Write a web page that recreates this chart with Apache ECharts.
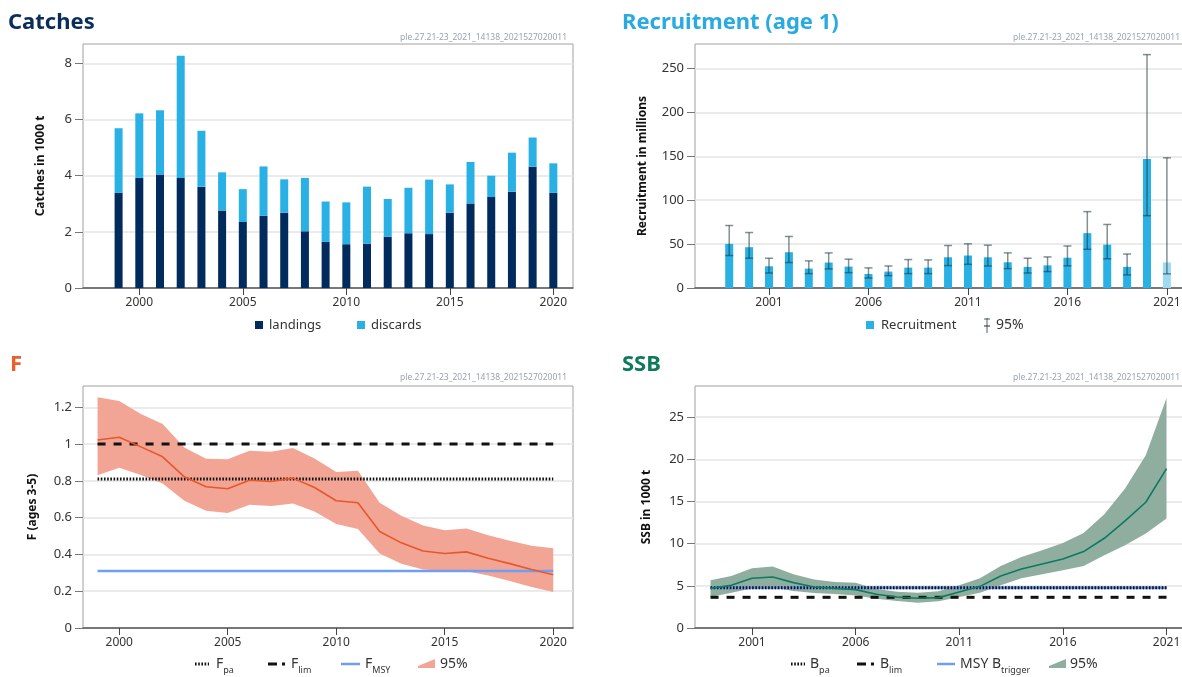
<!DOCTYPE html>
<html>
<head>
<meta charset="utf-8">
<title>ple.27.21-23 stock summary</title>
<script src="https://cdn.jsdelivr.net/npm/echarts@6.0.0/dist/echarts.min.js"></script>
<style>
html,body{margin:0;padding:0;background:#fff;}
#main{width:1182px;height:677px;}
</style>
</head>
<body>
<div id="main"></div>
<script>
// catches (1000 t)
var catchYears = [1999,2000,2001,2002,2003,2004,2005,2006,2007,2008,2009,2010,2011,2012,2013,2014,2015,2016,2017,2018,2019,2020];
var landings = [3.39,3.92,4.04,3.92,3.61,2.76,2.35,2.57,2.68,2.02,1.64,1.56,1.57,1.83,1.95,1.92,2.68,3.01,3.24,3.43,4.32,3.39];
var discards = [2.30,2.30,2.29,4.35,1.99,1.36,1.17,1.76,1.19,1.90,1.44,1.49,2.04,1.34,1.62,1.94,1.01,1.48,0.76,1.39,1.04,1.05];

// recruitment (age 1, millions)
var recYears = [1999,2000,2001,2002,2003,2004,2005,2006,2007,2008,2009,2010,2011,2012,2013,2014,2015,2016,2017,2018,2019,2020,2021];
var recruitment = [50.3,46.5,24.8,40.8,22.1,29.0,24.4,16.0,18.7,23.2,23.2,35.0,37.0,35.0,29.3,24.0,25.8,34.5,62.5,49.4,24.1,147.1,29.1];
var recLow  = [37.0,33.9,17.1,29.0,16.4,21.7,17.5,11.4,14.1,16.4,16.4,25.5,27.0,25.1,22.1,17.1,18.7,25.3,44.1,33.3,14.9,82.4,16.1];
var recHigh = [71.2,63.2,33.9,58.7,30.9,40.0,32.8,22.9,25.1,32.4,32.0,48.4,50.3,48.8,40.0,33.9,35.4,47.9,87.0,72.4,38.7,265.9,148.3];

// fishing mortality (ages 3-5)
var fYears = [1999,2000,2001,2002,2003,2004,2005,2006,2007,2008,2009,2010,2011,2012,2013,2014,2015,2016,2017,2018,2019,2020];
var fMean = [1.022,1.037,0.985,0.931,0.822,0.768,0.757,0.804,0.797,0.815,0.764,0.692,0.681,0.525,0.463,0.419,0.405,0.414,0.379,0.350,0.318,0.290];
var fLow  = [0.830,0.871,0.832,0.786,0.692,0.637,0.626,0.670,0.664,0.677,0.634,0.565,0.539,0.405,0.350,0.318,0.310,0.309,0.285,0.256,0.223,0.196];
var fHigh = [1.255,1.235,1.164,1.109,0.982,0.920,0.917,0.964,0.959,0.979,0.922,0.848,0.855,0.681,0.610,0.557,0.532,0.541,0.505,0.474,0.447,0.434];
var fPa = 0.81, fLim = 1.0, fMsy = 0.31;

// SSB (1000 t)
var ssbYears = [1999,2000,2001,2002,2003,2004,2005,2006,2007,2008,2009,2010,2011,2012,2013,2014,2015,2016,2017,2018,2019,2020,2021];
var ssb     = [4.7,5.06,5.9,6.05,5.38,4.87,4.7,4.55,4.0,3.68,3.52,3.6,4.27,4.94,6.17,7.0,7.6,8.19,9.06,10.64,12.7,14.91,18.9];
var ssbLow  = [3.68,4.19,4.67,4.79,4.39,4.15,4.03,3.84,3.48,3.2,3.0,3.16,3.68,4.19,5.06,5.89,6.37,6.84,7.36,8.62,9.81,11.2,12.98];
var ssbHigh = [5.66,6.17,7.08,7.28,6.37,5.74,5.46,5.38,4.63,4.31,4.19,4.35,5.06,5.89,7.36,8.43,9.22,10.09,11.27,13.49,16.54,20.49,27.29];
var bPa = 4.77, bLim = 3.64, msyBtrigger = 4.77;

var catchTicks = [2000,2005,2010,2015,2020];
var recTicks = [2001,2006,2011,2016,2021];
var catchYTicks = [0,2,4,6,8];
var recYTicks = [0,50,100,150,200,250];
var fYTicks = [0,0.2,0.4,0.6,0.8,1,1.2];
var ssbYTicks = [0,5,10,15,20,25];

var stockId = 'ple.27.21-23_2021_14138_2021527020011';
var FONT = 'Noto Sans';

var chart = echarts.init(document.getElementById('main'));

function xAxisFor(gi, min, max, ticks) {
    return {
        type: 'value', gridIndex: gi, min: min, max: max,
        axisLine: {show: true, onZero: false, lineStyle: {color: '#555', width: 1.5}},
        axisTick: {show: true, length: 7, customValues: ticks, lineStyle: {color: '#444'}},
        axisLabel: {customValues: ticks, color: '#333', fontSize: 12, fontFamily: FONT, margin: 9,
            formatter: function (v) { return String(v); }},
        splitLine: {show: false}
    };
}
function yAxisFor(gi, max, interval, ticks, name, gap) {
    return {
        type: 'value', gridIndex: gi, min: 0, max: max, interval: interval,
        name: name, nameLocation: 'middle', nameGap: gap,
        nameTextStyle: {fontWeight: 'bold', fontSize: 12, color: '#111', fontFamily: FONT},
        axisLine: {show: false},
        axisTick: {show: true, length: 8, customValues: ticks, lineStyle: {color: '#777'}},
        axisLabel: {customValues: ticks, color: '#333', fontSize: 13, fontFamily: FONT, margin: 11},
        splitLine: {show: true, lineStyle: {color: '#e4e4e4', width: 1.5}}
    };
}
function bandRenderer(years, lo, hi, fill) {
    return function (params, api) {
        if (params.dataIndex !== 0) return null;
        var pts = [];
        for (var i = 0; i < years.length; i++) pts.push(api.coord([years[i], hi[i]]));
        for (var j = years.length - 1; j >= 0; j--) pts.push(api.coord([years[j], lo[j]]));
        return {type: 'polygon', shape: {points: pts}, style: {fill: fill}};
    };
}
// stacked segment drawn between two values on the y scale
function segBar(color, w) {
    return function (params, api) {
        var x = api.value(0);
        var a = api.coord([x, api.value(1)]);
        var b = api.coord([x, api.value(2)]);
        return {type: 'rect', shape: {x: a[0] - w / 2, y: b[1], width: w, height: a[1] - b[1]},
            style: {fill: color}};
    };
}
function errRender(params, api) {
    var x = api.value(0);
    var top = api.coord([x, api.value(2)]);
    var bot = api.coord([x, api.value(1)]);
    var st = {stroke: 'rgba(25,55,60,0.55)', lineWidth: 1.5};
    return {type: 'group', children: [
        {type: 'line', shape: {x1: top[0], y1: top[1], x2: bot[0], y2: bot[1]}, style: st},
        {type: 'line', shape: {x1: top[0] - 4, y1: top[1], x2: top[0] + 4, y2: top[1]}, style: st},
        {type: 'line', shape: {x1: bot[0] - 4, y1: bot[1], x2: bot[0] + 4, y2: bot[1]}, style: st}
    ]};
}
function refLine(name, gi, years, val, color, type, width, z) {
    return {
        name: name, type: 'line', xAxisIndex: gi, yAxisIndex: gi, z: z,
        data: [[years[0], val], [years[years.length - 1], val]],
        showSymbol: false, silent: true,
        lineStyle: {color: color, type: type, width: width}
    };
}
function pair(xs, ys) {
    return xs.map(function (x, i) { return [x, ys[i]]; });
}

// legend and title helpers (graphic)
function txt(x, y, s, size, color, weight, align) {
    return {type: 'text', x: x, y: y, silent: true, style: {
        text: s, fill: color || '#333', fontSize: size, fontFamily: FONT,
        fontWeight: weight || 'normal', align: align || 'left', verticalAlign: 'middle'}};
}
function subTxt(x, y, main, sub) {
    return {type: 'text', x: x, y: y, silent: true, style: {
        text: '{m|' + main + '}{s|' + sub + '}', verticalAlign: 'middle',
        rich: {
            m: {fontSize: 14, fontFamily: FONT, fill: '#333', lineHeight: 22},
            s: {fontSize: 9, fontFamily: FONT, fill: '#333', lineHeight: 11, verticalAlign: 'bottom'}
        }}};
}
function seg(x1, y1, x2, y2, color, w, dash) {
    return {type: 'line', silent: true, shape: {x1: x1, y1: y1, x2: x2, y2: y2},
        style: {stroke: color, lineWidth: w, lineDash: dash || null}};
}
function box(x, y, w, h, color) {
    return {type: 'rect', silent: true, shape: {x: x, y: y, width: w, height: h}, style: {fill: color}};
}
function wedge(x, y, color) {
    return {type: 'polygon', silent: true, shape: {points: [[x, y + 3], [x + 17, y - 4], [x + 17, y + 5], [x, y + 5]]}, style: {fill: color}};
}

var navy = '#002b5c', sky = '#29b1e6';
var fLineCol = '#e8572a', fBandCol = '#f2a594';
var ssbLineCol = '#0c7a5f', ssbBandCol = '#8fae9f';
var msyBlue = '#6f9ef5';

var option = {
    animation: false,
    backgroundColor: '#fff',
    textStyle: {fontFamily: FONT},
    grid: [
        {left: 83, top: 44, width: 490, height: 244, show: true, borderColor: '#a0a0a0', borderWidth: 1, outerBoundsMode: 'none'},
        {left: 695, top: 44, width: 491, height: 244, show: true, borderColor: '#a0a0a0', borderWidth: 1, outerBoundsMode: 'none'},
        {left: 83, top: 386, width: 490, height: 242, show: true, borderColor: '#a0a0a0', borderWidth: 1, outerBoundsMode: 'none'},
        {left: 695, top: 386, width: 491, height: 242, show: true, borderColor: '#a0a0a0', borderWidth: 1, outerBoundsMode: 'none'}
    ],
    xAxis: [
        xAxisFor(0, 1997.28, 2020.95, catchTicks),
        xAxisFor(1, 1997.28, 2021.96, recTicks),
        xAxisFor(2, 1998.33, 2020.91, catchTicks),
        xAxisFor(3, 1998.25, 2021.94, recTicks)
    ],
    yAxis: [
        yAxisFor(0, 8.69, 2, catchYTicks, 'Catches in 1000 t', 36),
        yAxisFor(1, 278, 50, recYTicks, 'Recruitment in millions', 46),
        yAxisFor(2, 1.316, 0.2, fYTicks, 'F (ages 3-5)', 44),
        yAxisFor(3, 28.7, 5, ssbYTicks, 'SSB in 1000 t', 42)
    ],
    series: [
        {name: 'landings', type: 'custom', xAxisIndex: 0, yAxisIndex: 0, z: 2,
            renderItem: segBar(navy, 8), encode: {x: 0, y: [1, 2]},
            data: catchYears.map(function (y, i) { return [y, 0, landings[i]]; })},
        {name: 'discards', type: 'custom', xAxisIndex: 0, yAxisIndex: 0, z: 2,
            renderItem: segBar(sky, 8), encode: {x: 0, y: [1, 2]},
            data: catchYears.map(function (y, i) { return [y, landings[i], landings[i] + discards[i]]; })},

        {name: 'Recruitment', type: 'bar', xAxisIndex: 1, yAxisIndex: 1, barWidth: 8,
            itemStyle: {color: sky},
            data: recYears.map(function (y, i) {
                var d = {value: [y, recruitment[i]]};
                if (i === recYears.length - 1) d.itemStyle = {color: '#9fdaf4'};
                return d;
            })},
        {name: 'Recruitment 95%', type: 'custom', xAxisIndex: 1, yAxisIndex: 1, z: 5,
            renderItem: errRender, encode: {x: 0, y: [1, 2]},
            data: recYears.map(function (y, i) { return [y, recLow[i], recHigh[i]]; })},

        {name: 'F 95%', type: 'custom', xAxisIndex: 2, yAxisIndex: 2, z: 1,
            renderItem: bandRenderer(fYears, fLow, fHigh, fBandCol), encode: {x: 0, y: [1, 2]},
            data: fYears.map(function (y, i) { return [y, fLow[i], fHigh[i]]; })},
        refLine('FMSY', 2, fYears, fMsy, msyBlue, 'solid', 2.5, 3),
        refLine('Fpa', 2, fYears, fPa, '#111', [1.6, 1.6], 3, 3),
        refLine('Flim', 2, fYears, fLim, '#111', [8, 8], 3, 3),
        {name: 'F', type: 'line', xAxisIndex: 2, yAxisIndex: 2, z: 4, showSymbol: false,
            lineStyle: {color: fLineCol, width: 1.6}, data: pair(fYears, fMean)},

        {name: 'SSB 95%', type: 'custom', xAxisIndex: 3, yAxisIndex: 3, z: 1,
            renderItem: bandRenderer(ssbYears, ssbLow, ssbHigh, ssbBandCol), encode: {x: 0, y: [1, 2]},
            data: ssbYears.map(function (y, i) { return [y, ssbLow[i], ssbHigh[i]]; })},
        refLine('MSY Btrigger', 3, ssbYears, msyBtrigger, msyBlue, 'solid', 3, 3),
        refLine('Bpa', 3, ssbYears, bPa, '#111', [1.6, 1.6], 3, 3),
        refLine('Blim', 3, ssbYears, bLim, '#111', [8, 8], 3, 3),
        {name: 'SSB', type: 'line', xAxisIndex: 3, yAxisIndex: 3, z: 4, showSymbol: false,
            lineStyle: {color: ssbLineCol, width: 1.6}, data: pair(ssbYears, ssb)}
    ],
    graphic: [
        // titles
        txt(8, 23, 'Catches', 22, '#0b2d5c', 'bold'),
        txt(622, 23, 'Recruitment (age 1)', 22, '#29aae1', 'bold'),
        txt(10, 365, 'F', 22, '#e8602c', 'bold'),
        txt(622, 365, 'SSB', 22, '#0e7a5c', 'bold'),
        txt(567, 38, stockId, 8.5, '#9aa3b3', 'normal', 'right'),
        txt(1180, 38, stockId, 8.5, '#9aa3b3', 'normal', 'right'),
        txt(567, 378, stockId, 8.5, '#9aa3b3', 'normal', 'right'),
        txt(1180, 378, stockId, 8.5, '#9aa3b3', 'normal', 'right'),

        // catches legend
        box(255, 321, 8, 8, navy), txt(269, 325, 'landings', 13),
        box(357, 321, 8, 8, sky), txt(371, 325, 'discards', 13),

        // recruitment legend
        box(866, 321, 8, 8, sky), txt(881, 325, 'Recruitment', 13),
        seg(987, 318, 987, 333, 'rgba(25,55,60,0.6)', 1.3),
        seg(984, 319, 990, 319, 'rgba(25,55,60,0.6)', 1.3),
        seg(984, 326, 990, 326, 'rgba(25,55,60,0.8)', 1.3),
        txt(996, 325, '95%', 14),

        // F legend
        seg(195, 664, 209, 664, '#111', 3, [1.6, 1.6]), subTxt(216, 664, 'F', 'pa'),
        seg(268, 664, 277, 664, '#111', 3), seg(282, 664, 285, 664, '#111', 3), subTxt(291, 664, 'F', 'lim'),
        seg(341, 664, 360, 664, msyBlue, 2.5), subTxt(365, 664, 'F', 'MSY'),
        wedge(418, 663, fBandCol), txt(440, 664, '95%', 14),

        // SSB legend
        seg(791, 664, 805, 664, '#111', 3, [1.6, 1.6]), subTxt(810, 664, 'B', 'pa'),
        seg(857, 664, 866, 664, '#111', 3), seg(871, 664, 874, 664, '#111', 3), subTxt(880, 664, 'B', 'lim'),
        seg(937, 664, 955, 664, msyBlue, 2.5), subTxt(960, 664, 'MSY B', 'trigger'),
        wedge(1049, 663, ssbBandCol), txt(1070, 664, '95%', 14)
    ]
};

chart.setOption(option);
</script>
</body>
</html>
